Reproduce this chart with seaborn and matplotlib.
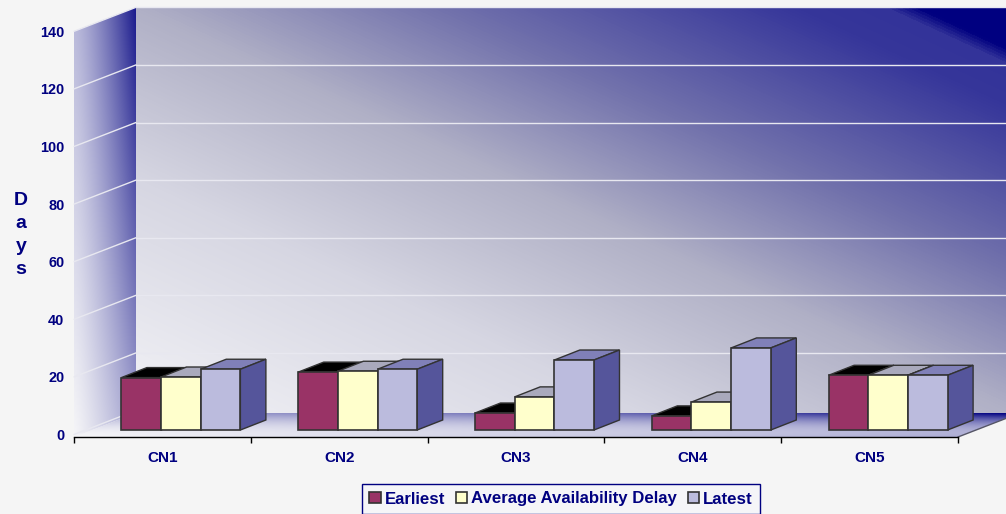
import numpy as np
import pandas as pd
import matplotlib
matplotlib.use('Agg')
import matplotlib.pyplot as plt
from matplotlib.colors import LinearSegmentedColormap
from matplotlib.patches import Polygon
import seaborn as sns

categories = ['CN1', 'CN2', 'CN3', 'CN4', 'CN5']
series_names = ['Earliest', 'Average Availability Delay', 'Latest']
earliest = [18.2, 20.1, 5.9, 4.9, 19.0]
average_delay = [18.4, 20.4, 11.5, 9.7, 19.0]
latest = [21.1, 21.1, 24.3, 28.5, 19.0]
y_ticks = [0, 20, 40, 60, 80, 100, 120, 140]

NAVY = '#000080'
front_colors = ['#993366', '#FFFFCC', '#BBBBDD']
top_colors = ['#000000', '#A9A9BC', '#8080B8']
side_colors = ['#000000', '#A9A9BC', '#55559B']
EDGE = '#333333'

# pixel sizes of one data unit, the plot is laid out on the 1006x514 canvas
W, H = 1006, 514
PX_X, PX_Y = 176.8, 2.88
LEFT, BASE = 74, 434.5

sns.set_theme(style='white')
plt.rcParams['font.family'] = ['Liberation Sans', 'DejaVu Sans']

fig = plt.figure(figsize=(W / 100, H / 100), dpi=100, facecolor='#F5F5F5')
ax = fig.add_axes([LEFT / W, (H - BASE) / H, 5 * PX_X / W, 140 * PX_Y / H])
ax.set_facecolor('none')

df = pd.DataFrame({
    'category': categories * 3,
    'series': np.repeat(series_names, len(categories)),
    'value': earliest + average_delay + latest,
})
sns.barplot(data=df, x='category', y='value', hue='series', hue_order=series_names,
            palette=front_colors, width=0.673, gap=0, saturation=1, legend=False,
            edgecolor=EDGE, linewidth=1.2, ax=ax)

X0, X1, Y1 = -0.5, 4.5, 140
DX, DY = 62 / PX_X, 24 / PX_Y          # depth of the whole chart box
BAR_DX, BAR_DY = 25.5 / PX_X, 10 / PX_Y  # depth of a bar
SHIFT_X, SHIFT_Y = 18.5 / PX_X, 4.5 / PX_Y  # bars sit inside the box
DROP = 2.5 / PX_Y                       # floor front edge is a bit under zero

# back wall, diagonal gradient
wall_cmap = LinearSegmentedColormap.from_list('wall', [
    (0.0, '#F2F2F6'), (0.30, '#D6D6E2'), (0.52, '#B0B0C6'), (0.70, '#7272AC'),
    (0.91, '#36369A'), (0.965, '#333399'), (0.985, '#000080'), (1.0, '#000080')])
xs, ys = np.meshgrid(np.arange(136, 1021), np.arange(8, 415))
s = (xs - 2.17 * ys + 762) / (930 + 762)
wall_img = ax.imshow(s, cmap=wall_cmap, vmin=0, vmax=1, aspect='auto', zorder=0,
                     extent=[X0 + DX, X1 + DX, DY - DROP, Y1 + DY], interpolation='bilinear')
wall_img.set_clip_box(fig.bbox)


def shade(intensity):
    light = np.array([0.96, 0.96, 0.97])
    dark = np.array([0.0, 0.0, 0.5])
    return light + (dark - light) * np.clip(intensity, 0, 1)[..., None]


def clip_to(image, corners):
    # images fall back to the axes box, so give them the figure box and a polygon
    image.set_clip_box(fig.bbox)
    image.set_clip_path(Polygon(corners, transform=ax.transData))


# left wall
t, v = np.meshgrid(np.linspace(0, 1, 62), np.linspace(1, 0, 200))
left_img = ax.imshow(shade((t ** 1.2) * (0.35 + 0.55 * v) + (1 - t) * 0.25 * v), aspect='auto',
                     zorder=0, extent=[X0, X0 + DX, -DROP, Y1 + DY])
clip_to(left_img, [(X0, -DROP), (X0 + DX, DY - DROP), (X0 + DX, Y1 + DY), (X0, Y1)])

# floor
u, w = np.meshgrid(np.linspace(0, 1, 300), np.linspace(1, 0, 30))
floor_img = ax.imshow(shade((1 - w) * 0.32 * u + w ** 2 * (0.38 + 0.62 * u ** 2)), aspect='auto',
                      zorder=0.5, extent=[X0, X1 + DX, -DROP, DY - DROP])
clip_to(floor_img, [(X0, -DROP), (X1, -DROP), (X1 + DX, DY - DROP), (X0 + DX, DY - DROP)])
ax.plot([X1, X1 + DX], [-DROP, DY - DROP], color='#555566', lw=1, zorder=1, clip_on=False)

# gridlines on both walls
for tick in y_ticks:
    if tick > 0:
        ax.plot([X0 + DX, X1 + DX], [tick + DY, tick + DY], color='#E8E8F0', lw=1, zorder=1, clip_on=False)
    ax.plot([X0, X0 + DX], [tick, tick + DY], color='#E8E8F0', lw=1, zorder=1, clip_on=False)

# turn flat bars into boxes, using the positions seaborn gave them
for i, container in enumerate(ax.containers):
    for bar in container:
        bar.set_x(bar.get_x() + SHIFT_X)
        bar.set_y(SHIFT_Y)
        bar.set_zorder(3 + i)
        bar.set_clip_on(False)
        x0, x1 = bar.get_x(), bar.get_x() + bar.get_width()
        y0, y1 = bar.get_y(), bar.get_y() + bar.get_height()
        ax.add_patch(Polygon([(x0, y1), (x1, y1), (x1 + BAR_DX, y1 + BAR_DY), (x0 + BAR_DX, y1 + BAR_DY)],
                             facecolor=top_colors[i], edgecolor=EDGE, lw=1, zorder=2.9 + i, clip_on=False))
        ax.add_patch(Polygon([(x1, y0), (x1 + BAR_DX, y0 + BAR_DY), (x1 + BAR_DX, y1 + BAR_DY), (x1, y1)],
                             facecolor=side_colors[i], edgecolor=EDGE, lw=1, zorder=2.9 + i, clip_on=False))

ax.set_xlim(X0, X1)
ax.set_ylim(0, Y1)
ax.set_xlabel('')
ax.set_ylabel('')

for side in ['top', 'left', 'right']:
    ax.spines[side].set_visible(False)
ax.spines['bottom'].set_position(('outward', 1.8))
ax.spines['bottom'].set_color('black')
ax.spines['bottom'].set_linewidth(1)
ax.spines['bottom'].set_zorder(2)

ax.set_yticks(y_ticks)
ax.set_xticks(range(len(categories)))
ax.set_xticklabels(categories)
ax.set_xticks(np.arange(X0, X1 + 1), minor=True)
ax.tick_params(axis='y', length=0, pad=7, labelsize=10.4, labelcolor=NAVY)
ax.tick_params(axis='x', which='major', length=0, pad=10, labelsize=11, labelcolor=NAVY)
ax.tick_params(axis='x', which='minor', bottom=True, length=4, width=1, color='black')
for label in ax.get_xticklabels() + ax.get_yticklabels():
    label.set_fontweight('bold')

fig.text(21 / W, 1 - 235 / H, 'D\na\ny\ns', color=NAVY, fontsize=14, fontweight='bold',
         ha='center', va='center', linespacing=1.47)

handles = [container[0] for container in ax.containers]
leg = ax.legend(handles, series_names, loc='center', bbox_to_anchor=(561 / W, 1 - 499 / H),
                bbox_transform=fig.transFigure, ncols=3, fancybox=False, framealpha=1,
                facecolor='#F5F5F8', edgecolor=NAVY, labelcolor=NAVY,
                prop={'weight': 'bold', 'size': 12.1}, handlelength=0.66, handleheight=0.66,
                handletextpad=0.24, columnspacing=0.65, borderpad=0.42, borderaxespad=0)
leg.get_frame().set_linewidth(1)
leg.set_zorder(10)

fig.savefig('out.png', dpi=100, facecolor=fig.get_facecolor())
